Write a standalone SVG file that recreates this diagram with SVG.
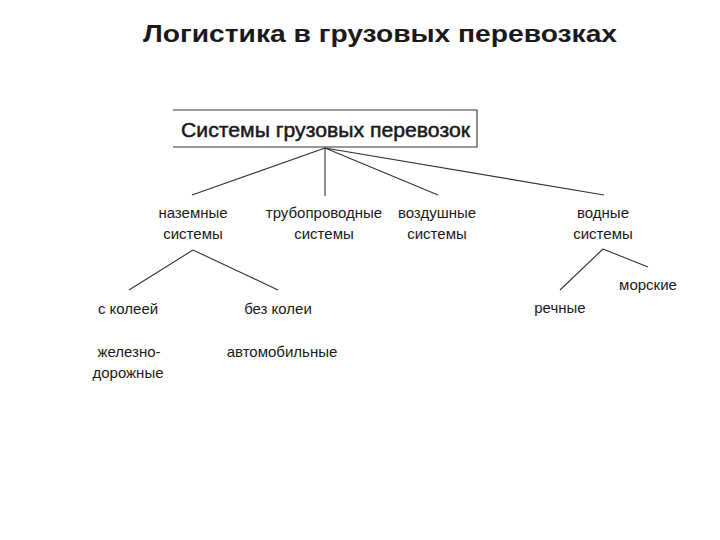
<svg xmlns="http://www.w3.org/2000/svg" width="720" height="540" viewBox="0 0 720 540">
<style>
.t{font-family:"Liberation Sans",Arial,sans-serif;fill:#1a1a1a;text-anchor:middle}
.lbl{font-size:15px}
.ln{stroke:#333;stroke-width:1.1;fill:none}
</style>
<rect width="720" height="540" fill="#fff"/>
<text class="t" x="380" y="42" font-size="24" font-weight="bold" fill="#000" textLength="474" lengthAdjust="spacingAndGlyphs">Логистика в грузовых перевозках</text>
<g id="root">
<path class="ln" d="M173 110H477V147H173"/>
<text class="t" x="325.5" y="137" font-size="21" textLength="289" lengthAdjust="spacingAndGlyphs" stroke="#1a1a1a" stroke-width="0.5">Системы грузовых перевозок</text>
</g>
<g id="connectors">
<path class="ln" d="M325 148L192 195M325 148V196M325 148L438 195M325 148L604 195"/>
<path class="ln" d="M193 250L129 290M193 250L278 290"/>
<path class="ln" d="M603 249L560 290M603 249L648 267"/>
</g>
<g id="n-nazemnye"><text class="t lbl" x="193" y="218">наземные</text><text class="t lbl" x="193" y="239">системы</text></g>
<g id="n-truboprovodnye"><text class="t lbl" x="324" y="218">трубопроводные</text><text class="t lbl" x="324" y="239">системы</text></g>
<g id="n-vozdushnye"><text class="t lbl" x="437" y="218">воздушные</text><text class="t lbl" x="437" y="239">системы</text></g>
<g id="n-vodnye"><text class="t lbl" x="603" y="218">водные</text><text class="t lbl" x="603" y="239">системы</text></g>
<g id="n-s-koleey"><text class="t lbl" x="128" y="314">с колеей</text></g>
<g id="n-bez-kolei"><text class="t lbl" x="278" y="314">без колеи</text></g>
<g id="n-zhd"><text class="t lbl" x="129" y="357">железно-</text><text class="t lbl" x="128" y="378">дорожные</text></g>
<g id="n-avto"><text class="t lbl" x="282" y="357">автомобильные</text></g>
<g id="n-rechnye"><text class="t lbl" x="560" y="313">речные</text></g>
<g id="n-morskie"><text class="t lbl" x="648" y="290">морские</text></g>
</svg>
